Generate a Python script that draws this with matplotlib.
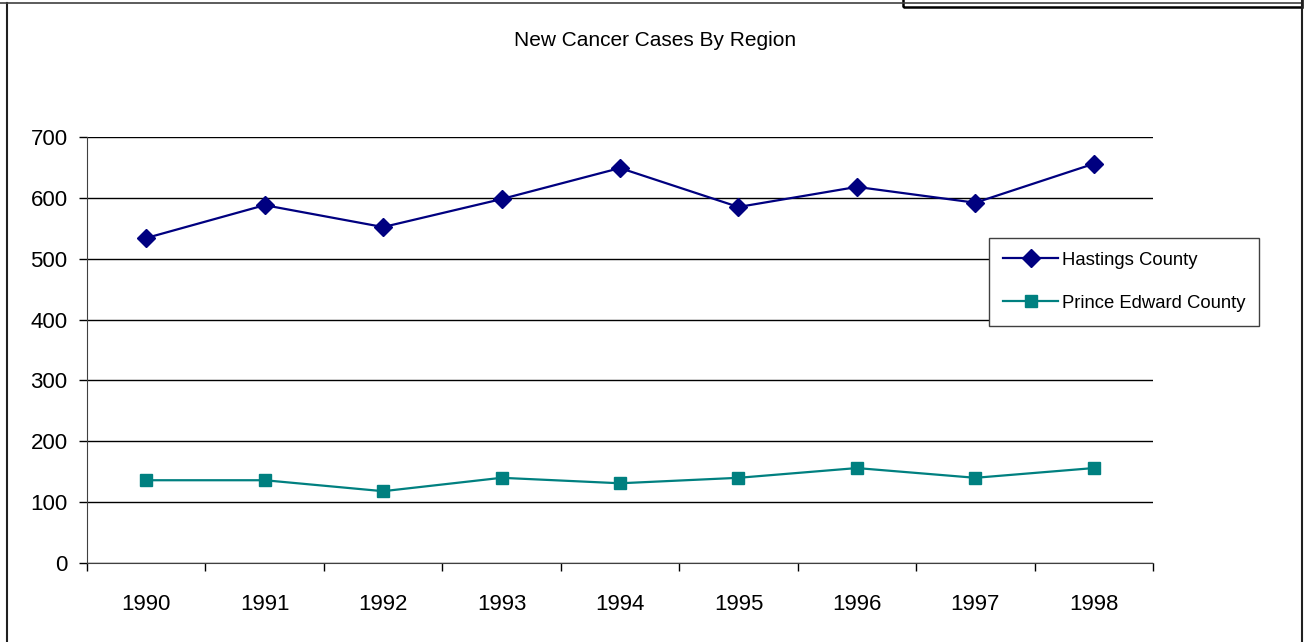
import matplotlib
matplotlib.use('Agg')
import matplotlib.pyplot as plt
from matplotlib.patches import Rectangle
from matplotlib.lines import Line2D

# data
years = ['1990', '1991', '1992', '1993', '1994', '1995', '1996', '1997', '1998']
hastings = [534, 588, 552, 598, 649, 585, 618, 592, 656]
prince_edward = [136, 136, 118, 140, 131, 140, 156, 140, 156]
y_ticks = [0, 100, 200, 300, 400, 500, 600, 700]

plt.rcParams['font.family'] = ['Liberation Sans', 'DejaVu Sans']

W, H = 1304, 642
fig = plt.figure(figsize=(W / 100, H / 100), dpi=100)

# plot area in pixels: x 87..1153, y 137..563
ax = fig.add_axes([87 / W, 1 - 563 / H, (1153 - 87) / W, (563 - 137) / H])

x = list(range(len(years)))
ax.plot(x, hastings, color='#000080', lw=1.6, marker='D', ms=9,
        label='Hastings County', clip_on=False)
ax.plot(x, prince_edward, color='#008080', lw=1.6, marker='s', ms=8.5,
        label='Prince Edward County', clip_on=False)

ax.set_xlim(-0.5, len(years) - 0.5)
ax.set_ylim(0, 700)
ax.set_yticks(y_ticks)
ax.yaxis.grid(True, color='black', lw=1)
ax.set_axisbelow(True)

# category labels centered, tick marks between categories
ax.set_xticks(x)
ax.set_xticklabels(years)
ax.set_xticks([i - 0.5 for i in range(len(years) + 1)], minor=True)
ax.tick_params(axis='x', which='major', length=0, pad=22, labelsize=16)
ax.tick_params(axis='x', which='minor', length=6, width=1, direction='out')
ax.tick_params(axis='y', length=6, width=1, direction='out', pad=8, labelsize=16)

for s in ['top', 'right']:
    ax.spines[s].set_visible(False)
ax.spines['left'].set_color('#404040')
ax.spines['bottom'].set_color('#404040')

leg = ax.legend(loc='upper left', bbox_to_anchor=((989 - 87) / (1153 - 87), 1 - (238 - 137) / (563 - 137)),
                bbox_transform=ax.transAxes, fontsize=13.3, frameon=True, fancybox=False,
                edgecolor='#404040', framealpha=1, borderpad=0.75, labelspacing=1.4,
                handlelength=3.0, handletextpad=0.2, borderaxespad=0)
leg.get_frame().set_linewidth(1)

fig.text(655 / W, 1 - 41 / H, 'New Cancer Cases By Region', ha='center', va='center',
         fontsize=15)

# outer chart border and clipped box at top right
fig.add_artist(Line2D([7 / W, 7 / W], [0, 1 - 3 / H], color='#202020', lw=1.5,
                      transform=fig.transFigure))
fig.add_artist(Line2D([0, 1302 / W], [1 - 3 / H, 1 - 3 / H], color='#404040', lw=1.2,
                      transform=fig.transFigure))
fig.add_artist(Line2D([1302 / W, 1302 / W], [0, 1], color='#202020', lw=1.5,
                      transform=fig.transFigure))
fig.add_artist(Rectangle((903 / W, 1 - 7 / H), (1302 - 903) / W, 10 / H, fill=False,
                         edgecolor='black', lw=1.8, transform=fig.transFigure))

fig.savefig('out.png', dpi=100)
